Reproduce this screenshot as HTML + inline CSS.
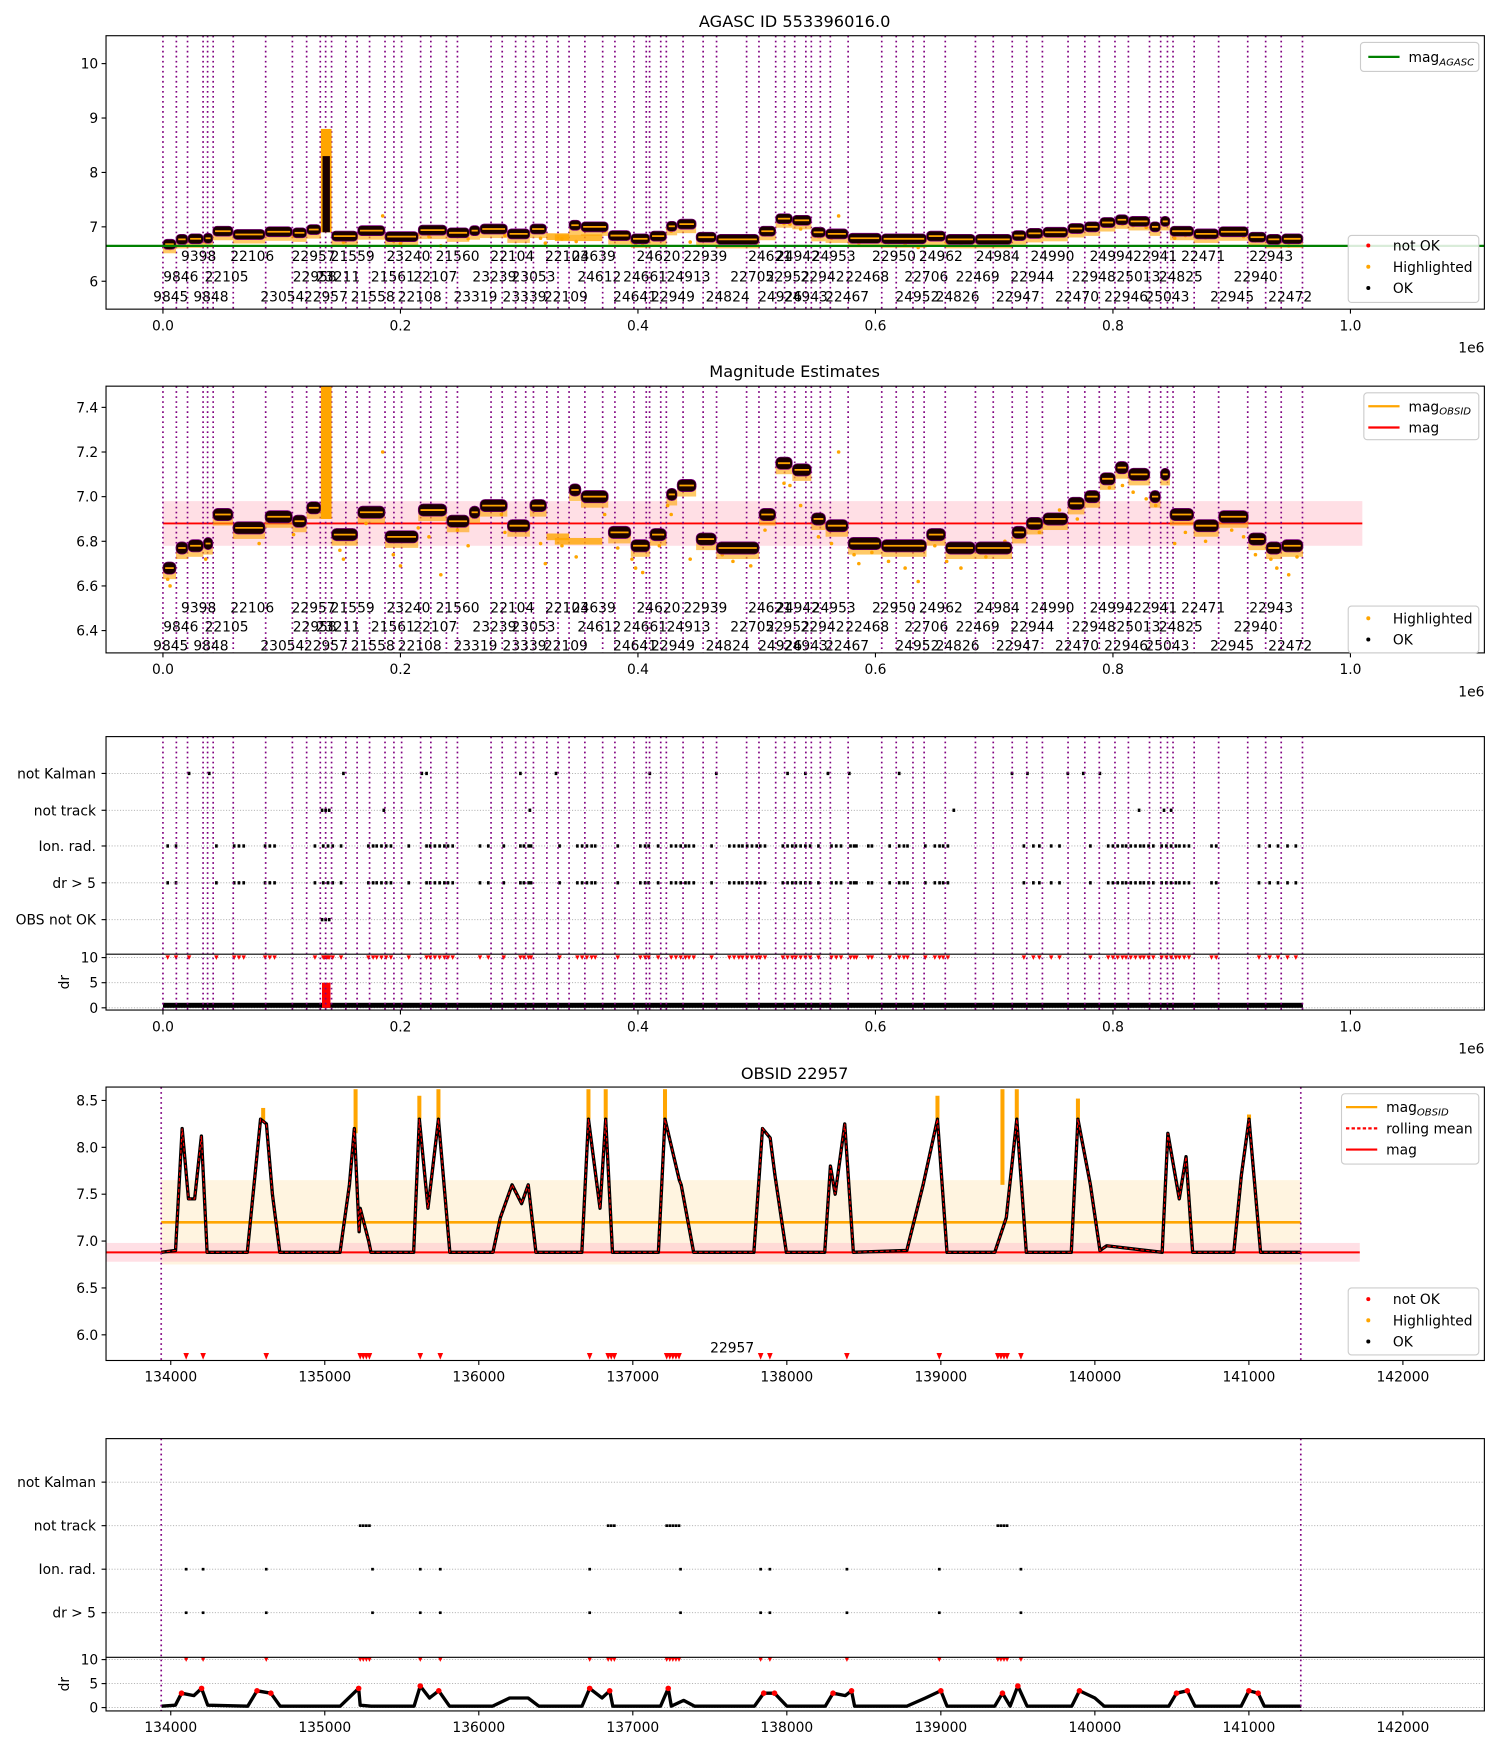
<!DOCTYPE html>
<html><head><meta charset="utf-8"><style>
html,body{margin:0;padding:0;background:#fff}
svg{display:block}
text{font-family:"DejaVu Sans","Liberation Sans",sans-serif;fill:#000}
</style></head><body>
<svg id="fig" xmlns="http://www.w3.org/2000/svg" width="1500" height="1750" viewBox="0 0 1344 1568">
<rect x="0" y="0" width="1344" height="1568" fill="#fff"/>
<g id="root"></g>
</svg>
<script>
// ===== data =====
const obsBounds=[0,.0113,.0207,.0338,.0376,.0423,.0592,.0865,.109,.121,.1325,.137,.142,.154,.1635,.174,.187,.1945,.201,.217,.2256,.2387,.248,.2763,.2857,.297,.3055,.312,.3233,.3327,.342,.3553,.3703,.3806,.3966,.407,.4098,.4192,.4239,.438,.4549,.4662,.4915,.5019,.516,.5235,.532,.5414,.546,.5536,.562,.577,.6053,.6175,.6316,.641,.6588,.6842,.6992,.7152,.7274,.7406,.7622,.7763,.7885,.8017,.813,.8308,.8402,.8459,.8506,.8684,.889,.9135,.9286,.9417,.9596];
const segStart=[0,.011,.021,.034,.042,.059,.086,.109,.121,.142,.164,.187,.215,.239,.258,.267,.290,.309,.342,.352,.375,.394,.410,.424,.433,.449,.466,.502,.516,.530,.546,.558,.577,.605,.643,.659,.684,.715,.727,.741,.762,.776,.789,.802,.813,.831,.840,.848,.868,.889,.914,.929,.942];
const segEnd=[.011,.021,.034,.042,.059,.086,.109,.121,.133,.164,.187,.215,.239,.258,.267,.290,.309,.323,.352,.375,.394,.410,.424,.433,.449,.466,.502,.516,.530,.546,.558,.577,.605,.643,.659,.684,.715,.727,.741,.762,.776,.789,.802,.813,.831,.840,.848,.868,.889,.914,.929,.942,.960];
const segMag=[6.68,6.77,6.78,6.79,6.92,6.86,6.91,6.89,6.95,6.83,6.93,6.82,6.94,6.89,6.93,6.96,6.87,6.96,7.03,7.00,6.84,6.78,6.83,7.01,7.05,6.81,6.77,6.92,7.15,7.12,6.90,6.87,6.79,6.78,6.83,6.77,6.77,6.84,6.88,6.90,6.97,7.00,7.08,7.13,7.10,7.00,7.10,6.92,6.87,6.91,6.81,6.77,6.78];
const spikeV=[.133,.142]; const spikeMagP1=[8.3,8.8];
const hlSegStart=[.323,.330]; const hlSegEnd=[.342,.370]; const hlSegMag=[6.82,6.80];
const strayV=[.004,.006,.036,.070,.081,.110,.149,.152,.171,.185,.194,.200,.215,.224,.234,.248,.257,.285,.288,.300,.318,.322,.336,.348,.366,.372,.383,.395,.398,.404,.418,.425,.428,.444,.471,.480,.495,.507,.523,.528,.537,.552,.563,.569,.582,.586,.597,.611,.625,.636,.650,.660,.672,.693,.709,.720,.738,.755,.770,.786,.797,.808,.817,.828,.836,.852,.861,.878,.900,.910,.920,.933,.938,.948,.955];
const strayMag=[6.63,6.60,6.72,6.84,6.79,6.83,6.76,6.72,6.88,7.2,6.74,6.69,6.86,6.82,6.65,6.85,6.78,6.92,6.84,6.86,6.79,6.70,6.78,6.73,6.98,6.92,6.77,6.72,6.68,6.66,6.78,6.96,6.92,6.72,6.74,6.71,6.69,6.85,7.06,7.05,6.96,6.82,6.79,7.2,6.74,6.70,6.75,6.71,6.68,6.62,6.78,6.71,6.68,6.73,6.80,6.82,6.84,6.94,6.90,7.01,7.04,7.05,7.02,6.99,6.96,6.79,6.84,6.80,6.85,6.82,6.74,6.72,6.68,6.65,6.73];
const row1=[["9398",178],["22106",226],["22957",281],["21559",316],["23240",366],["21560",410],["22104",459],["22103",508],["24639",532],["24620",590],["22939",632],["24621",690],["24942",715],["24953",747],["22950",801],["24962",843],["24984",894],["24990",943],["24994",996],["22941",1035],["22471",1078],["22943",1139]];
const row2=[["9846",162],["22105",203],["22958",282],["23211",303],["21561",352],["22107",390],["23239",443],["23053",478],["24612",537],["24661",578],["24913",617],["22705",674],["22952",706],["22942",737],["22468",777],["22706",830],["22469",876],["22944",925],["22948",980],["25013",1020],["24825",1058],["22940",1125]];
const row3=[["9845",153],["9848",189],["23054",253],["22957",292],["21558",334],["22108",376],["23319",426],["23339",470],["22109",507],["24641",569],["22949",603],["24824",652],["24926",699],["24943",722],["22467",759],["24952",822],["24826",858],["22947",912],["22470",965],["22946",1009],["25043",1046],["22945",1104],["22472",1156]];
const ionRadV=[.004,.011,.045,.060,.064,.068,.086,.090,.094,.128,.135,.139,.143,.150,.173,.177,.180,.184,.188,.192,.207,.222,.225,.229,.233,.237,.240,.244,.267,.274,.287,.301,.304,.308,.310,.334,.349,.353,.357,.361,.364,.383,.402,.406,.409,.417,.428,.432,.436,.440,.443,.447,.462,.477,.481,.485,.488,.492,.496,.500,.503,.507,.522,.526,.530,.533,.537,.541,.545,.552,.563,.567,.571,.579,.582,.584,.594,.597,.612,.620,.624,.627,.642,.650,.654,.657,.661,.725,.733,.738,.748,.755,.781,.796,.800,.804,.808,.811,.815,.819,.823,.826,.830,.834,.841,.845,.849,.853,.856,.860,.864,.883,.887,.923,.932,.939,.947,.954];
const drGt5V=ionRadV.slice();
const notOkV=ionRadV.concat([.022,.136,.138,.140]);
const notKalmanV=[.022,.039,.152,.218,.222,.301,.331,.410,.466,.526,.541,.560,.578,.620,.715,.728,.762,.775,.789];
const notTrackV=[.134,.137,.140,.186,.309,.666,.822,.843,.849];
const obsNotOkV=[.134,.137,.140];
// OBSID 22957
const magT=[133938,134031,134074,134115,134155,134199,134236,134497,134583,134621,134660,134708,135099,135160,135192,135223,135230,135285,135300,135316,135577,135614,135670,135738,135812,136092,136140,136216,136278,136321,136371,136669,136712,136787,136824,136868,136899,137166,137209,137302,137314,137395,137786,137842,137892,137923,137997,138246,138283,138314,138376,138432,138779,138885,138978,139040,139350,139425,139493,139555,139847,139890,139971,140033,140077,140437,140474,140548,140592,140635,140902,140951,141001,141076,141337];
const magV=[6.88,6.90,8.20,7.45,7.45,8.12,6.88,6.88,8.30,8.25,7.50,6.88,6.88,7.60,8.20,7.10,7.35,7.00,6.88,6.88,6.88,8.30,7.35,8.30,6.88,6.88,7.25,7.60,7.40,7.60,6.88,6.88,8.30,7.35,8.30,6.88,6.88,6.88,8.30,7.65,7.60,6.88,6.88,8.20,8.10,7.70,6.88,6.88,7.80,7.50,8.25,6.88,6.90,7.60,8.30,6.88,6.88,7.25,8.30,6.88,6.88,8.30,7.60,6.90,6.95,6.88,8.15,7.45,7.90,6.88,6.88,7.70,8.30,6.88,6.88];
const hlT=[134600,135200,135614,135738,136712,136824,137209,138978,139400,139493,139890,141001];
const hlTop=[8.42,8.62,8.55,8.62,8.62,8.62,8.62,8.55,8.62,8.62,8.52,8.35];
const hlBot=[8.28,8.15,8.30,8.30,8.30,8.30,8.30,8.30,7.6,8.30,8.30,8.30];
const notOkT=[134100,134210,134620,135230,135250,135270,135290,135620,135750,136720,136840,136860,136880,137220,137240,137260,137280,137300,137830,137890,138390,138990,139370,139390,139410,139430,139520];
const ionRadT=[134100,134210,134620,135310,135620,135750,136720,137310,137830,137890,138390,138990,139520];
const drGt5T=ionRadT.slice();
const notTrackT=[135230,135250,135270,135290,136840,136860,136880,137220,137240,137260,137280,137300,139370,139390,139410,139430];
const drT=[133940,134030,134070,134150,134200,134240,134500,134560,134650,134710,135100,135220,135230,135300,135580,135620,135680,135740,135810,136090,136200,136320,136390,136670,136720,136800,136850,136870,137180,137230,137250,137330,137400,137790,137850,137920,138000,138250,138300,138380,138420,138440,138780,138900,139000,139040,139350,139400,139450,139500,139560,139850,139900,140000,140060,140480,140530,140600,140650,140950,141000,141060,141100,141340];
const drV=[.3,.5,3,2.5,4,.5,.3,3.5,3,.3,.3,4,.5,.3,.3,4.5,2,3.5,.3,.3,2,2,.3,.3,4,2,3.5,.3,.3,4,.3,1.5,.3,.3,3,3,.3,.3,3,2.5,3.5,.3,.3,2,3.5,.3,.3,3,.3,4.5,.3,.3,3.5,2,.3,.3,3,3.5,.3,.3,3.5,3,.3,.3];
const xTicksA=[0,0.2,0.4,0.6,0.8,1.0]; const xTickLabA=["0.0","0.2","0.4","0.6","0.8","1.0"];
const yTicks1=[6,7,8,9,10]; const yTicks2=[6.4,6.6,6.8,7.0,7.2,7.4];
const yTicks4=[6.0,6.5,7.0,7.5,8.0,8.5]; const xTicksB=[134000,135000,136000,137000,138000,139000,140000,141000,142000];

// ===== helpers =====
const NS="http://www.w3.org/2000/svg"; const root=document.getElementById('root');
function el(tag,attrs,parent,txt){const e=document.createElementNS(NS,tag);for(const k in attrs)e.setAttribute(k,attrs[k]);if(txt!==undefined)e.textContent=txt;(parent||root).appendChild(e);return e;}
const XA=v=>146+v*1064;
const XB=t=>153+(t-134000)*0.138;
const Y1=m=>252-(m-6)*48.75;
const Y2=m=>445-(m-7)*200;
const Y4=m=>986-(m-8.5)*84;
const D3=d=>903-d*4.5;
const D5=d=>1530-d*4.3;
function clip(id,x,y,w,h){const c=el('clipPath',{id:id});el('rect',{x:x,y:y,width:w,height:h},c);}
function frame(x0,y0,x1,y1){el('rect',{x:x0,y:y0,width:x1-x0,height:y1-y0,fill:'none',stroke:'#000','stroke-width':1});}
function vlinesA(g,y0,y1){obsBounds.forEach(v=>{const l=el('line',{x1:XA(v),x2:XA(v),y1:y0,y2:y1,stroke:'#800080','stroke-width':1.5,'stroke-dasharray':'1.5,3'},g);});}
function xAxisA(yb,pfx){xTicksA.forEach((v,i)=>{el('line',{x1:XA(v),x2:XA(v),y1:yb,y2:yb+4,stroke:'#000'});const t=el('text',{x:XA(v),y:yb+19,'font-size':12.4,'text-anchor':'middle'},root,xTickLabA[i]);});
 const o=el('text',{x:1330,y:yb+39,'font-size':12.4,'text-anchor':'end'},root,'1e6');}
function xAxisB(yb,pfx){xTicksB.forEach(v=>{el('line',{x1:XB(v),x2:XB(v),y1:yb,y2:yb+4,stroke:'#000'});const t=el('text',{x:XB(v),y:yb+19,'font-size':12.4,'text-anchor':'middle'},root,String(v));});}
function yAxis(ticks,fn,x0,pfx,fmt){ticks.forEach(v=>{el('line',{x1:x0-4,x2:x0,y1:fn(v),y2:fn(v),stroke:'#000'});const t=el('text',{x:x0-7,y:fn(v)+4.5,'font-size':12.4,'text-anchor':'end'},root,fmt?fmt(v):String(v));});}
function title(x,y,s,nm){const t=el('text',{x:x,y:y,'font-size':14.5,'text-anchor':'middle'},root,s);}
function obsLabels(g,ys){[row1,row2,row3].forEach((r,i)=>r.forEach(([s,x])=>{const t=el('text',{x:x,y:ys[i],'font-size':12.4,'text-anchor':'middle'},g,s);}));}
function legendBox(x,y,w,h,nm){const g=el('g',{});el('rect',{x:x,y:y,width:w,height:h,fill:'#fff','fill-opacity':0.85,stroke:'#ccc',rx:3},g);return g;}
function legLine(g,x,y,col,dash,label,sub){el('line',{x1:x,x2:x+28,y1:y,y2:y,stroke:col,'stroke-width':2,'stroke-dasharray':dash||'none'},g);const t=el('text',{x:x+36,y:y+4.5,'font-size':12.4},g,label);if(sub){el('tspan',{'font-size':9,'font-style':'italic',dy:3},t,sub);}}
function legDot(g,x,y,col,label){el('circle',{cx:x+14,cy:y,r:1.8,fill:col},g);el('text',{x:x+36,y:y+4.5,'font-size':12.4},g,label);}
function segments(g,Y,thick,spikeTop,spikeOrange){
 for(let i=0;i<strayV.length;i++){const c=el('circle',{cx:XA(strayV[i]),cy:Y(strayMag[i]),r:1.6,fill:'#ffa500'},g);}
 for(let i=0;i<segMag.length;i++){const x0=XA(segStart[i]),x1=XA(segEnd[i]),y=Y(segMag[i]);
  const f=el('rect',{x:x0,y:y,width:x1-x0,height:thick*0.9,fill:'#ffa500',opacity:0.6},g);
  const r=el('rect',{x:x0,y:y-thick/2,width:x1-x0,height:thick,rx:thick/2.5,fill:'#1a0000',stroke:'#800080','stroke-width':0.6},g);
  el('line',{x1:x0+2,x2:x1-2,y1:y,y2:y,stroke:'#ffa500','stroke-width':1.6},g);}
 for(let i=0;i<hlSegMag.length;i++){el('rect',{x:XA(hlSegStart[i]),y:Y(hlSegMag[i])-3,width:XA(hlSegEnd[i])-XA(hlSegStart[i]),height:6,fill:'#ffa500',opacity:0.8},g);}
 const sx=XA(spikeV[0]),sw=XA(spikeV[1])-sx;
 el('rect',{x:sx,y:Y(spikeOrange),width:sw,height:Y(6.9)-Y(spikeOrange),fill:'#ffa500'},g);
 if(spikeTop)el('rect',{x:sx+1.5,y:Y(spikeTop),width:sw-3,height:Y(6.9)-Y(spikeTop),fill:'#1a0000'},g);
}

// ===== Panel 1 =====
clip('c1',95,32,1235,245);
title(712,24,'AGASC ID 553396016.0','panel1-title');
const g1=el('g',{'clip-path':'url(#c1)'});
vlinesA(g1,32,277);
segments(g1,Y1,9,spikeMagP1[0],spikeMagP1[1]);
el('line',{x1:95,x2:1330,y1:Y1(6.65),y2:Y1(6.65),stroke:'#008000','stroke-width':2},g1);
obsLabels(g1,[234,252,270]);
frame(95,32,1330,277); yAxis(yTicks1,Y1,95,'panel1'); xAxisA(277,'panel1');
{const g=legendBox(1219,38,106,26,'legend-agasc');legLine(g,1226,51,'#008000',null,'mag','AGASC');}
{const g=legendBox(1208,211,117,60,'legend-points');legDot(g,1212,220,'#ff0000','not OK');legDot(g,1212,239,'#ffa500','Highlighted');legDot(g,1212,258,'#000','OK');}

// ===== Panel 2 =====
clip('c2',95,346,1235,239);
title(712,338,'Magnitude Estimates','panel2-title');
const g2=el('g',{'clip-path':'url(#c2)'});
el('rect',{x:146,y:Y2(6.98),width:XA(1.01)-146,height:Y2(6.78)-Y2(6.98),fill:'#ffc0cb',opacity:0.5},g2);
el('line',{x1:146,x2:XA(1.01),y1:Y2(6.88),y2:Y2(6.88),stroke:'#ff0000','stroke-width':1.6},g2);
vlinesA(g2,346,585);
segments(g2,Y2,11,null,7.6);
obsLabels(g2,[549,566,583]);
frame(95,346,1330,585); yAxis(yTicks2,Y2,95,'panel2',v=>v.toFixed(1)); xAxisA(585,'panel2');
{const g=legendBox(1222,352,103,42,'legend-mag');legLine(g,1226,364,'#ffa500',null,'mag','OBSID');legLine(g,1226,383,'#ff0000',null,'mag');}
{const g=legendBox(1208,543,117,42,'legend-points-2');legDot(g,1212,554,'#ffa500','Highlighted');legDot(g,1212,573,'#000','OK');}

// ===== Panel 3 =====
clip('c3',95,660,1235,245);
const g3=el('g',{'clip-path':'url(#c3)'});
const rows3=[['not Kalman',693,notKalmanV],['not track',726,notTrackV],['Ion. rad.',758,ionRadV],['dr > 5',791,drGt5V],['OBS not OK',824,obsNotOkV]];
rows3.forEach(([lab,y,arr])=>{el('line',{x1:95,x2:1330,y1:y,y2:y,stroke:'#aaa','stroke-width':0.8,'stroke-dasharray':'1,1.5'},g3);
 arr.forEach(v=>{const d=el('rect',{x:XA(v)-1.2,y:y-1.5,width:2.4,height:3,fill:'#000'},g3);});
 const t=el('text',{x:86,y:y+4.5,'font-size':12.4,'text-anchor':'end'},root,lab);
 el('line',{x1:91,x2:95,y1:y,y2:y,stroke:'#000'});});
[10,5,0].forEach(d=>el('line',{x1:95,x2:1330,y1:D3(d),y2:D3(d),stroke:'#aaa','stroke-width':0.8,'stroke-dasharray':'1,1.5'},g3));
el('rect',{x:XA(0),y:D3(1.0),width:XA(0.96)-XA(0),height:D3(0)-D3(1.0),fill:'#000'},g3);
el('rect',{x:XA(spikeV[0])+1,y:D3(5),width:XA(spikeV[1])-XA(spikeV[0])-2,height:D3(0)-D3(5),fill:'#ff0000'},g3);
notOkV.forEach(v=>{const p=el('path',{d:`M${XA(v)-2},${D3(10)-2}L${XA(v)+2},${D3(10)-2}L${XA(v)},${D3(10)+2}Z`,fill:'#ff0000'},g3);});
vlinesA(g3,660,905);
el('line',{x1:95,x2:1330,y1:855,y2:855,stroke:'#000','stroke-width':1});
frame(95,660,1330,905); yAxis([10,5,0],D3,95,'panel3-dr');
{const t=el('text',{x:0,y:0,'font-size':12.4,'text-anchor':'middle',transform:'translate(62,880) rotate(-90)'},root,'dr');}
xAxisA(905,'panel3');

// ===== Panel 4 =====
clip('c4',95,974,1235,245);
title(712,967,'OBSID 22957','panel4-title');
const g4=el('g',{'clip-path':'url(#c4)'});
el('rect',{x:XB(133938),y:Y4(7.65),width:XB(141337)-XB(133938),height:Y4(6.75)-Y4(7.65),fill:'#ffa500',opacity:0.12},g4);
el('rect',{x:95,y:Y4(6.98),width:XB(141720)-95,height:Y4(6.78)-Y4(6.98),fill:'#ffc0cb',opacity:0.5},g4);
el('line',{x1:XB(133938),x2:XB(141337),y1:Y4(7.2),y2:Y4(7.2),stroke:'#ffa500','stroke-width':2.4},g4);
el('line',{x1:95,x2:XB(141720),y1:Y4(6.88),y2:Y4(6.88),stroke:'#ff0000','stroke-width':1.8},g4);
hlT.forEach((t,i)=>{const r=el('rect',{x:XB(t)-1.8,y:Y4(hlTop[i]),width:3.6,height:Y4(hlBot[i])-Y4(hlTop[i]),fill:'#ffa500'},g4);});
const pts=magT.map((t,i)=>XB(t)+','+Y4(magV[i])).join(' ');
el('polyline',{points:pts,fill:'none',stroke:'#000','stroke-width':3,'stroke-linejoin':'round'},g4);
el('polyline',{points:pts,fill:'none',stroke:'#ff0000','stroke-width':1,'stroke-dasharray':'3,2'},g4);
notOkT.forEach(t=>{const y=Y4(5.77);const p=el('path',{d:`M${XB(t)-2.5},${y-3}L${XB(t)+2.5},${y-3}L${XB(t)},${y+3}Z`,fill:'#ff0000'},g4);});
[XB(133938),XB(141337)].forEach(x=>el('line',{x1:x,x2:x,y1:974,y2:1219,stroke:'#800080','stroke-width':1.5,'stroke-dasharray':'1.5,3'},g4));
{const t=el('text',{x:656,y:1212,'font-size':12.4,'text-anchor':'middle'},g4,'22957');}
frame(95,974,1330,1219); yAxis(yTicks4,Y4,95,'panel4',v=>v.toFixed(1)); xAxisB(1219,'panel4');
{const g=legendBox(1202,980,123,63,'legend-mag-obsid');legLine(g,1206,992,'#ffa500',null,'mag','OBSID');legLine(g,1206,1011,'#ff0000','3,2','rolling mean');legLine(g,1206,1030,'#ff0000',null,'mag');}
{const g=legendBox(1208,1154,117,60,'legend-points-4');legDot(g,1212,1164,'#ff0000','not OK');legDot(g,1212,1183,'#ffa500','Highlighted');legDot(g,1212,1202,'#000','OK');}

// ===== Panel 5 =====
clip('c5',95,1289,1235,244);
const g5=el('g',{'clip-path':'url(#c5)'});
const rows5=[['not Kalman',1328,[]],['not track',1367,notTrackT],['Ion. rad.',1406,ionRadT],['dr > 5',1445,drGt5T]];
rows5.forEach(([lab,y,arr])=>{el('line',{x1:95,x2:1330,y1:y,y2:y,stroke:'#aaa','stroke-width':0.8,'stroke-dasharray':'1,1.5'},g5);
 arr.forEach(t=>{const d=el('rect',{x:XB(t)-1.2,y:y-1.2,width:2.4,height:2.4,fill:'#000'},g5);});
 const tx=el('text',{x:86,y:y+4.5,'font-size':12.4,'text-anchor':'end'},root,lab);
 el('line',{x1:91,x2:95,y1:y,y2:y,stroke:'#000'});});
[10,5,0].forEach(d=>el('line',{x1:95,x2:1330,y1:D5(d),y2:D5(d),stroke:'#aaa','stroke-width':0.8,'stroke-dasharray':'1,1.5'},g5));
const dpts=drT.map((t,i)=>XB(t)+','+D5(drV[i])).join(' ');
el('polyline',{points:dpts,fill:'none',stroke:'#000','stroke-width':3,'stroke-linejoin':'round'},g5);
drT.forEach((t,i)=>{if(drV[i]>=3){const c=el('circle',{cx:XB(t),cy:D5(drV[i]),r:2.5,fill:'#ff0000'},g5);}});
notOkT.forEach(t=>{const y=D5(10);const p=el('path',{d:`M${XB(t)-2},${y-2}L${XB(t)+2},${y-2}L${XB(t)},${y+2}Z`,fill:'#ff0000'},g5);});
[XB(133938),XB(141337)].forEach(x=>el('line',{x1:x,x2:x,y1:1289,y2:1533,stroke:'#800080','stroke-width':1.5,'stroke-dasharray':'1.5,3'},g5));
el('line',{x1:95,x2:1330,y1:1485,y2:1485,stroke:'#000','stroke-width':1});
frame(95,1289,1330,1533); yAxis([10,5,0],D5,95,'panel5-dr');
{const t=el('text',{x:0,y:0,'font-size':12.4,'text-anchor':'middle',transform:'translate(62,1509) rotate(-90)'},root,'dr');}
xAxisB(1533,'panel5');
</script>
</body></html>
